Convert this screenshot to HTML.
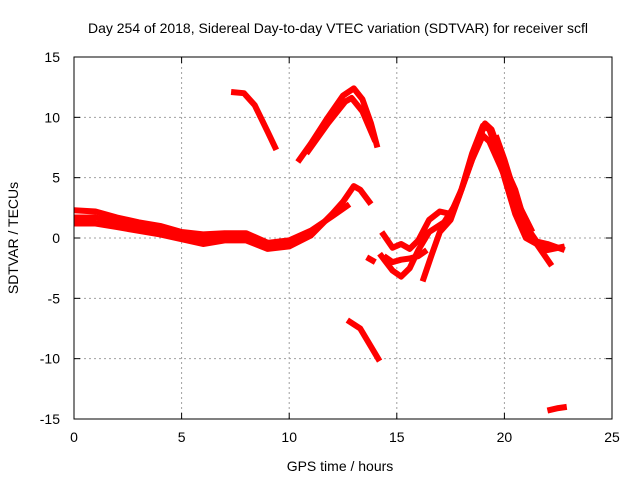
<!DOCTYPE html>
<html><head><meta charset="utf-8"><style>
body{margin:0;background:#fff}
svg{display:block;font-family:"Liberation Sans",sans-serif}
</style></head><body>
<svg id="chart" width="640" height="480">
<text x="338" y="33" font-size="14" text-anchor="middle">Day 254 of 2018, Sidereal Day-to-day VTEC variation (SDTVAR) for receiver scfl</text>
<text x="340" y="471" font-size="14" text-anchor="middle">GPS time / hours</text>
<text transform="translate(18,238) rotate(-90)" font-size="14" text-anchor="middle">SDTVAR / TECUs</text>
<g id="grid"></g><g id="marks"></g>
<rect x="74" y="57" width="538" height="362" fill="none" stroke="#000"/>
<g id="ticks"></g>
</svg>
<script>
const xTicks=[0,5,10,15,20,25];
const yTicks=[-15,-10,-5,0,5,10,15];
const trackA_h=[0,1,2,3,4,5,6,7,8,9,10,11,12,12.8];
const trackA_v=[2.3,2.2,1.7,1.3,1.0,0.5,0.3,0.4,0.4,-0.4,-0.2,0.6,1.8,2.8];
const trackB_h=[0,1,2,3,4,5,6,7,8,9,10,11,12,12.5,13,13.3,13.8];
const trackB_v=[1.2,1.2,0.9,0.6,0.3,-0.1,-0.5,-0.2,-0.2,-0.9,-0.7,0.2,2.0,3.0,4.3,4.0,2.8];
const trackC_h=[0,1,2,3,4,5,6,7,8,9,10,11];
const trackC_v=[1.7,1.7,1.3,1.0,0.7,0.2,-0.1,0.1,0.1,-0.6,-0.4,0.4];
const trackD_h=[7.3,7.9,8.4,9,9.4];
const trackD_v=[12.1,12,11,8.8,7.3];
const trackE_h=[10.4,11,11.8,12.5,13,13.4,13.8,14.1];
const trackE_v=[6.3,7.8,10,11.8,12.4,11.5,9.5,7.5];
const trackF_h=[10.8,11.8,12.6,12.9,13.4,14];
const trackF_v=[7,9.5,11.3,11.6,10.5,8];
const trackG_h=[12.7,13.3,13.8,14.2];
const trackG_v=[-6.8,-7.5,-9,-10.2];
const trackH_h=[22,22.5,22.9];
const trackH_v=[-14.3,-14.1,-14];
const trackI_h=[14.3,14.8,15.2,15.6,16,16.5,17,17.5,18,18.5,19,19.3,19.7,20,20.5,21,21.5,22,22.8];
const trackI_v=[0.5,-0.8,-0.5,-0.9,-0.2,1.5,2.2,2,4,7,9.3,9,7,5,2,0,-0.5,-1,-0.7];
const trackJ_h=[14.2,14.8,15.2,15.6,16,16.5,17.2,17.8,18.5,19,19.3,19.8,20.5,21,21.5,22.2];
const trackJ_v=[-1.3,-2.7,-3.2,-2.5,-1,0.5,1.3,3,6.5,8.5,8,6,3,0.5,-0.5,-2.3];
const trackK_h=[14.4,14.8,15.2,15.6,16,16.4];
const trackK_v=[-1.5,-2,-1.8,-1.7,-1.5,-1];
const trackL_h=[16.2,16.6,17,17.5,18,18.7,19.1,19.4,20,20.5,21,21.5,22,22.8];
const trackL_v=[-3.6,-1.5,0.5,1.5,4,7.5,9.5,9,6,4,1,-0.3,-0.5,-1];
const trackM_h=[19.6,20,20.6,21.3];
const trackM_v=[8.5,6.5,3,0.5];
const trackN_h=[13.6,14];
const trackN_v=[-1.6,-2];
const tracks=[[trackA_h,trackA_v],[trackB_h,trackB_v],[trackC_h,trackC_v],[trackD_h,trackD_v],[trackE_h,trackE_v],[trackF_h,trackF_v],[trackG_h,trackG_v],[trackH_h,trackH_v],[trackI_h,trackI_v],[trackJ_h,trackJ_v],[trackK_h,trackK_v],[trackL_h,trackL_v],[trackM_h,trackM_v],[trackN_h,trackN_v]];
const X0=74,X1=612,Y0=419,Y1=57;
function sx(h){return X0+(h-0)/(25-0)*(X1-X0);}
function sy(v){return Y0-(v+15)/30*(Y0-Y1);}
const NS="http://www.w3.org/2000/svg";
const grid=document.getElementById('grid'),ticks=document.getElementById('ticks'),marks=document.getElementById('marks');
function mk(tag,attrs,parent){const e=document.createElementNS(NS,tag);for(const k in attrs)e.setAttribute(k,attrs[k]);parent.appendChild(e);return e;}
xTicks.forEach(t=>{
  const x=sx(t);
  if(t>0&&t<25){const g=mk('line',{x1:x,x2:x,y1:Y0,y2:Y1,stroke:'#a0a0a0','stroke-dasharray':'2,3'},grid);
  
  }
  mk('line',{x1:x,x2:x,y1:Y0,y2:Y0-6,stroke:'#000'},ticks);
  mk('line',{x1:x,x2:x,y1:Y1,y2:Y1+6,stroke:'#000'},ticks);
  const l=mk('text',{x:x,y:Y0+23,'font-size':14,'text-anchor':'middle'},ticks);l.textContent=t;
  
  
});
yTicks.forEach(t=>{
  const y=sy(t);
  if(t>-15&&t<15){const g=mk('line',{x1:X0,x2:X1,y1:y,y2:y,stroke:'#a0a0a0','stroke-dasharray':'2,3'},grid);
  
  }
  mk('line',{x1:X0,x2:X0+6,y1:y,y2:y,stroke:'#000'},ticks);
  mk('line',{x1:X1,x2:X1-6,y1:y,y2:y,stroke:'#000'},ticks);
  const l=mk('text',{x:X0-14,y:y+5,'font-size':14,'text-anchor':'end'},ticks);l.textContent=t;
  
  
});
tracks.forEach(([hs,vs])=>{
  const d=hs.map((h,i)=>(i?'L':'M')+sx(h).toFixed(1)+','+sy(vs[i]).toFixed(1)).join('');
  const p=mk('path',{d:d,fill:'none',stroke:'#f00','stroke-width':6,'stroke-linejoin':'round','stroke-linecap':'butt'},marks);
  
  
});
</script>
</body></html>
